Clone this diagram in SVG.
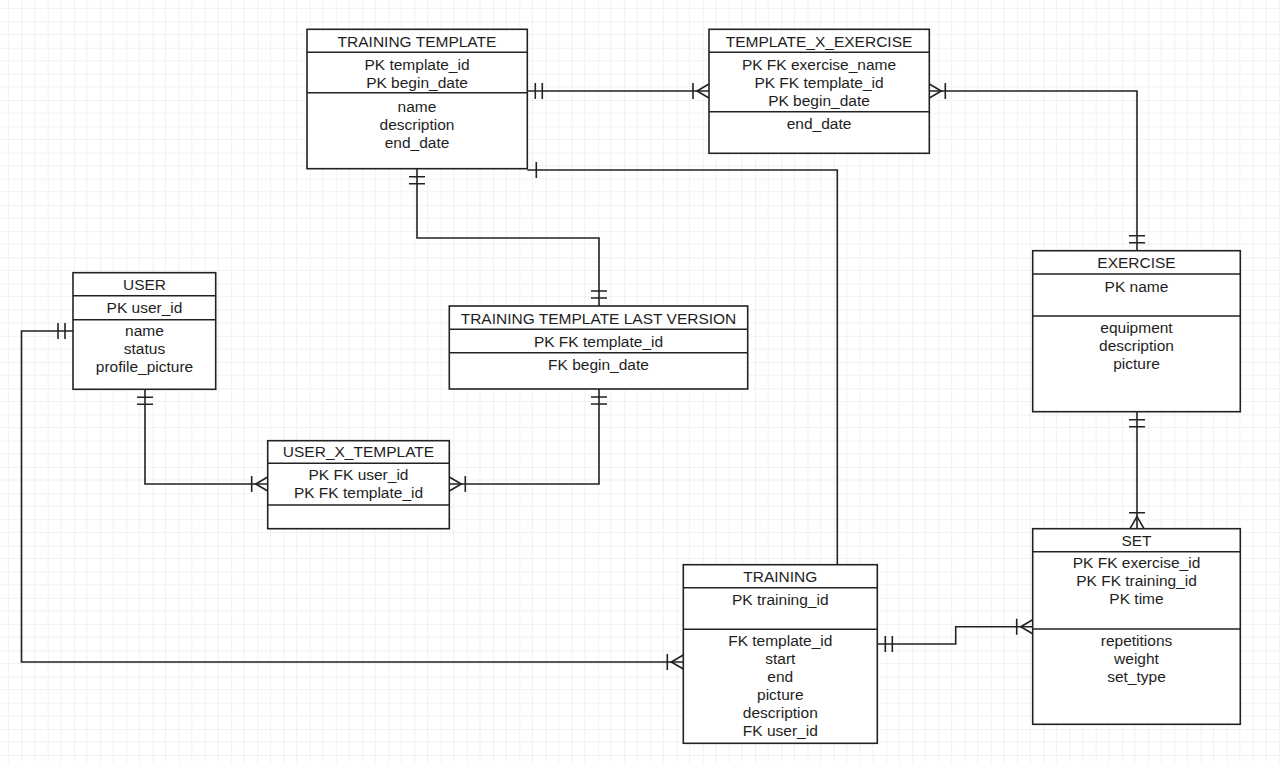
<svg xmlns="http://www.w3.org/2000/svg" width="1280" height="763" viewBox="0 0 1280 763">
<style>
.box{fill:#fff;stroke:#222;stroke-width:1.6}
.div{stroke:#222;stroke-width:1.6;fill:none}
.conn{fill:none;stroke:#222;stroke-width:1.6}
text{font-family:"Liberation Sans",Arial,sans-serif;font-size:15.5px;fill:#1e1e1e;text-anchor:middle}
</style>
<defs>
<pattern id="grid" patternUnits="userSpaceOnUse" x="21.5" y="21.5" width="26.2" height="26.2">
<path d="M13.1,0V26.2M0,13.1H26.2" stroke="#f0f0f7" stroke-width="1" fill="none"/>
<path d="M0,0V26.2M0,0H26.2" stroke="#e3e3ef" stroke-width="1" fill="none"/>
</pattern>
<marker id="mandOne" markerUnits="userSpaceOnUse" orient="auto-start-reverse" viewBox="-20 -20 40 40" markerWidth="40" markerHeight="40" refX="0" refY="0" overflow="visible">
<path d="M-8,-8V8M-15,-8V8" stroke="#222" stroke-width="1.6" fill="none"/>
</marker>
<marker id="oneMany" markerUnits="userSpaceOnUse" orient="auto-start-reverse" viewBox="-20 -20 40 40" markerWidth="40" markerHeight="40" refX="0" refY="0" overflow="visible">
<path d="M-16,-8V8M0,-7L-12,0L0,7" stroke="#222" stroke-width="1.6" fill="none"/>
</marker>
<marker id="one" markerUnits="userSpaceOnUse" orient="auto-start-reverse" viewBox="-20 -20 40 40" markerWidth="40" markerHeight="40" refX="0" refY="0" overflow="visible">
<path d="M-9,-8V8" stroke="#222" stroke-width="1.6" fill="none"/>
</marker>
</defs>
<rect width="1280" height="763" fill="#fff"/>
<rect width="1280" height="763" fill="url(#grid)"/>

<g id="connectors">
<path class="conn" d="M527.3,91 H709" marker-start="url(#mandOne)" marker-end="url(#oneMany)"/>
<path class="conn" d="M1137,250.7 V91 H929.3" marker-start="url(#mandOne)" marker-end="url(#oneMany)"/>
<path class="conn" d="M417,168.7 V238 H599 V306" marker-start="url(#mandOne)" marker-end="url(#mandOne)"/>
<path class="conn" d="M145,389.3 V484 H267.7" marker-start="url(#mandOne)" marker-end="url(#oneMany)"/>
<path class="conn" d="M449.3,484 H599 V389" marker-start="url(#oneMany)" marker-end="url(#mandOne)"/>
<path class="conn" d="M73,331 H21.5 V662 H683.3" marker-start="url(#mandOne)" marker-end="url(#oneMany)"/>
<path class="conn" d="M837.3,564.7 V170 H527.3" marker-end="url(#one)"/>
<path class="conn" d="M877.3,644 H955.7 V626.7 H1032.7" marker-start="url(#mandOne)" marker-end="url(#oneMany)"/>
<path class="conn" d="M1137,411.7 V528.7" marker-start="url(#mandOne)" marker-end="url(#oneMany)"/>
</g>

<g id="training_template">
<rect class="box" x="307" y="29.3" width="220.3" height="139.4"/>
<path class="div" d="M307,52.3H527.3M307,92.7H527.3"/>
<text x="417" y="46.5">TRAINING TEMPLATE</text>
<text x="417" y="70">PK template_id</text>
<text x="417" y="88">PK begin_date</text>
<text x="417" y="112">name</text>
<text x="417" y="130">description</text>
<text x="417" y="148">end_date</text>
</g>

<g id="template_x_exercise">
<rect class="box" x="709" y="29.3" width="220.3" height="124"/>
<path class="div" d="M709,52.3H929.3M709,111.7H929.3"/>
<text x="819" y="46.5">TEMPLATE_X_EXERCISE</text>
<text x="819" y="70">PK FK exercise_name</text>
<text x="819" y="88">PK FK template_id</text>
<text x="819" y="106">PK begin_date</text>
<text x="819" y="129">end_date</text>
</g>

<g id="user">
<rect class="box" x="73" y="272.7" width="142.7" height="116.6"/>
<path class="div" d="M73,295.7H215.7M73,319.7H215.7"/>
<text x="144.5" y="289.5">USER</text>
<text x="144.5" y="313">PK user_id</text>
<text x="144.5" y="336">name</text>
<text x="144.5" y="354">status</text>
<text x="144.5" y="372">profile_picture</text>
</g>

<g id="training_template_last_version">
<rect class="box" x="449.3" y="306" width="298.4" height="83"/>
<path class="div" d="M449.3,329.3H747.7M449.3,352.7H747.7"/>
<text x="598.5" y="324">TRAINING TEMPLATE LAST VERSION</text>
<text x="598.5" y="346.5">PK FK template_id</text>
<text x="598.5" y="370">FK begin_date</text>
</g>

<g id="user_x_template">
<rect class="box" x="267.7" y="440.7" width="181.6" height="88"/>
<path class="div" d="M267.7,463.3H449.3M267.7,505H449.3"/>
<text x="358.5" y="457">USER_X_TEMPLATE</text>
<text x="358.5" y="479.5">PK FK user_id</text>
<text x="358.5" y="497.5">PK FK template_id</text>
</g>

<g id="exercise">
<rect class="box" x="1032.7" y="250.7" width="207.6" height="161"/>
<path class="div" d="M1032.7,274H1240.3M1032.7,316H1240.3"/>
<text x="1136.5" y="267.5">EXERCISE</text>
<text x="1136.5" y="291.5">PK name</text>
<text x="1136.5" y="333">equipment</text>
<text x="1136.5" y="351">description</text>
<text x="1136.5" y="369">picture</text>
</g>

<g id="set">
<rect class="box" x="1032.7" y="528.7" width="207.6" height="195.6"/>
<path class="div" d="M1032.7,551.7H1240.3M1032.7,629H1240.3"/>
<text x="1136.5" y="545.5">SET</text>
<text x="1136.5" y="568">PK FK exercise_id</text>
<text x="1136.5" y="586">PK FK training_id</text>
<text x="1136.5" y="604">PK time</text>
<text x="1136.5" y="646">repetitions</text>
<text x="1136.5" y="664">weight</text>
<text x="1136.5" y="682">set_type</text>
</g>

<g id="training">
<rect class="box" x="683.3" y="564.7" width="194" height="178.6"/>
<path class="div" d="M683.3,587.7H877.3M683.3,629.3H877.3"/>
<text x="780.3" y="582">TRAINING</text>
<text x="780.3" y="604.5">PK training_id</text>
<text x="780.3" y="645.5">FK template_id</text>
<text x="780.3" y="664">start</text>
<text x="780.3" y="682">end</text>
<text x="780.3" y="700">picture</text>
<text x="780.3" y="718">description</text>
<text x="780.3" y="736">FK user_id</text>
</g>
</svg>
